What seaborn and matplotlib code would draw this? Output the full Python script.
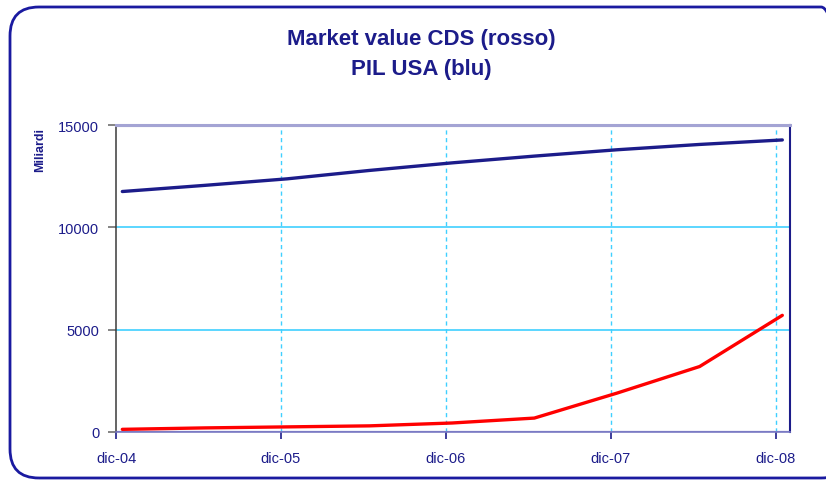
import matplotlib
matplotlib.use("Agg")
import matplotlib.pyplot as plt
import matplotlib.dates as mdates
from matplotlib.patches import FancyBboxPatch
import seaborn as sns
import pandas as pd

# Semiannual observations (mid-month dates)
dates = ["2004-12-15", "2005-06-15", "2005-12-15", "2006-06-15", "2006-12-15",
         "2007-06-15", "2007-12-15", "2008-06-15", "2008-12-15"]
cds_market_value = [130, 200, 250, 300, 440, 680, 1900, 3200, 5700]   # rosso
pil_usa = [11750, 12050, 12370, 12780, 13150, 13480, 13790, 14050, 14270]  # blu

tick_dates = ["2004-12-01", "2005-12-01", "2006-12-01", "2007-12-01", "2008-12-01"]
tick_labels = ["dic-04", "dic-05", "dic-06", "dic-07", "dic-08"]
x_range = ["2004-12-01", "2009-01-01"]
y_ticks = [0, 5000, 10000, 15000]

navy = "#1c1c8a"
cyan = "#3fd0ff"

df = pd.DataFrame({
    "data": pd.to_datetime(dates * 2),
    "valore": pil_usa + cds_market_value,
    "serie": ["PIL USA"] * len(dates) + ["CDS"] * len(dates),
})
ticks = pd.to_datetime(tick_dates)

sns.set_style("white")
plt.rcParams["font.family"] = ["Liberation Sans", "DejaVu Sans"]

fig = plt.figure(figsize=(8.26, 4.81), dpi=100)
ax = fig.add_axes([116 / 826, 1 - 433 / 481, (790 - 116) / 826, (433 - 126) / 481])

sns.lineplot(data=df, x="data", y="valore", hue="serie",
             palette={"PIL USA": navy, "CDS": "#ff0000"},
             linewidth=2.4, legend=False, ax=ax, zorder=3)

# Grid lines
for y in (5000, 10000):
    ax.axhline(y, color=cyan, lw=1.2, zorder=1)
for t in ticks[1:]:
    ax.axvline(t, color=cyan, lw=1.0, ls=(0, (3, 2.5)), zorder=1)
ax.axhline(15000, color="#a4a4d4", lw=2.2, zorder=1)
ax.axhline(0, color="#7a7ac4", lw=1.6, zorder=1)

ax.set_xlim(pd.to_datetime(x_range[0]), pd.to_datetime(x_range[1]))
ax.set_ylim(0, 15000)
ax.set_xticks(ticks)
ax.set_xticklabels(tick_labels)
ax.set_yticks(y_ticks)
ax.set_yticklabels([str(v) for v in y_ticks])
ax.set_xlabel("")
ax.set_ylabel("")

ax.tick_params(axis="x", direction="out", length=5, width=1.2, color=navy,
               labelcolor=navy, labelsize=10.5, pad=9, bottom=True)
ax.tick_params(axis="y", direction="out", length=6, width=1.2, color="#707070",
               labelcolor=navy, labelsize=10.5, pad=6, left=True)

ax.spines["left"].set_color("#3a3a3a")
ax.spines["left"].set_linewidth(1.1)
ax.spines["bottom"].set_color("#7a7ac4")
ax.spines["bottom"].set_linewidth(1.2)
ax.spines["right"].set_color(navy)
ax.spines["right"].set_linewidth(1.5)
ax.spines["top"].set_color("#a4a4d4")
ax.spines["top"].set_linewidth(2.2)

# Titles and unit label
fig.text(421 / 826, 1 - 40 / 481, "Market value CDS (rosso)", ha="center", va="center",
         color=navy, fontsize=16, fontweight="bold")
fig.text(421 / 826, 1 - 70 / 481, "PIL USA (blu)", ha="center", va="center",
         color=navy, fontsize=16, fontweight="bold")
fig.text(40 / 826, 1 - 150 / 481, "Miliardi", ha="center", va="center", rotation=90,
         color=navy, fontsize=9, fontweight="bold")

# Rounded frame around the chart
frame = FancyBboxPatch((10 / 826, 1 - 479 / 481), (850 - 10) / 826, (479 - 8) / 481,
                       boxstyle="round,pad=0,rounding_size=0.035",
                       transform=fig.transFigure, fill=False,
                       edgecolor="#1a1aa0", linewidth=2.0, clip_on=False,
                       mutation_aspect=826 / 481)
fig.patches.append(frame)

fig.savefig("out.png", dpi=100)
